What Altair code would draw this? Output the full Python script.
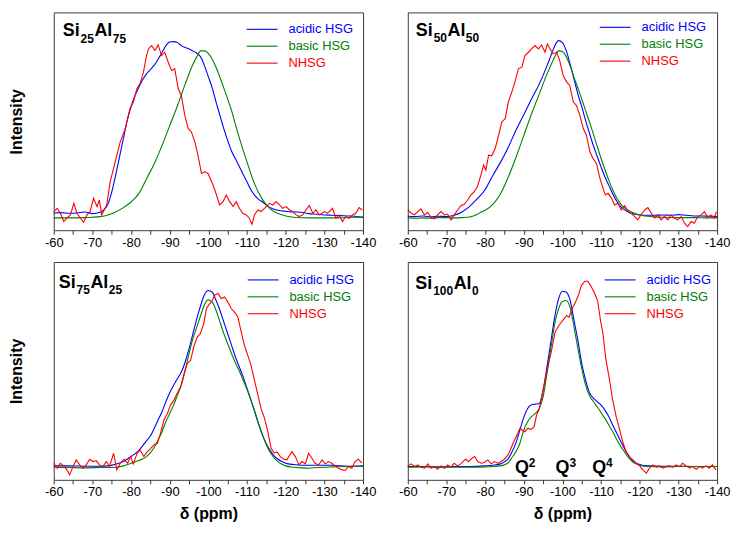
import altair as alt
import pandas as pd

SERIES = ["acidic HSG", "basic HSG", "NHSG"]
COLORS = ["#0000ff", "#008000", "#ff0000"]
X_TICKS = list(range(-60, -145, -5))

# panel titles: (element, subscript, element, subscript)
TITLES = [("Si", "25", "Al", "75"), ("Si", "50", "Al", "50"),
          ("Si", "75", "Al", "25"), ("Si", "100", "Al", "0")]

# (ppm, intensity a.u.)
P1_ACIDIC = [(-60,52),(-62,53),(-64,51),(-66,52),(-68,55),(-70,50),(-72,54),(-73,62),(-74,78),(-75,115),
             (-76,165),(-77,220),(-78,275),(-79,330),(-80,372),(-81,405),(-82,430),(-83,453),(-84,471),
             (-85,484),(-86,497),(-87,515),(-88,535),(-89,556),(-90,567),(-91,568),(-92,565),(-93,556),
             (-94,550),(-95,546),(-96,540),(-97,533),(-98,522),(-99,495),(-100,462),(-101,428),(-102,385),
             (-103,345),(-104,305),(-105,270),(-106,238),(-107,215),(-108,192),(-109,168),(-110,145),
             (-111,122),(-112,105),(-113,93),(-114,85),(-115,76),(-116,68),(-118,60),(-120,57),(-122,55),
             (-124,54),(-126,50),(-128,48),(-130,46),(-132,45),(-134,44),(-136,43),(-138,42),(-140,38)]
P1_BASIC = [(-60,37),(-64,37),(-68,38),(-70,39),(-72,41),(-74,46),(-76,55),(-78,68),(-80,85),(-82,110),
            (-84,155),(-86,200),(-88,255),(-90,315),(-92,375),(-94,440),(-96,500),(-97,522),(-98,540),
            (-99,540),(-100,532),(-101,515),(-102,490),(-103,460),(-104,428),(-105,395),(-106,360),
            (-107,318),(-108,278),(-110,205),(-112,138),(-114,92),(-116,64),(-118,50),(-120,43),(-122,39),
            (-126,37),(-130,37),(-134,37),(-138,39),(-140,40)]
P1_NHSG = [(-60,56),(-60.9,66),(-61.7,51),(-62.6,26),(-63.4,36),(-64.3,46),(-65.2,81),(-66,51),(-66.9,36),
           (-67.7,24),(-68.6,46),(-69.4,56),(-70.3,96),(-71.2,71),(-71.8,91),(-72.4,46),(-73.7,76),
           (-74.6,146),(-75.9,206),(-77.2,266),(-78.5,306),(-79.7,366),(-80.6,386),(-81.5,426),(-82.3,441),
           (-83.2,476),(-84,526),(-84.5,546),(-85.3,556),(-86.2,541),(-87,558),(-87.9,526),(-88.7,536),
           (-89.6,506),(-90.5,481),(-91.3,486),(-92.2,426),(-93,406),(-93.9,346),(-94.8,306),(-95.6,296),
           (-96.5,266),(-97.3,226),(-98.2,171),(-99.1,176),(-99.9,171),(-101.2,136),(-102.1,106),
           (-102.9,76),(-103.8,86),(-104.6,106),(-105.5,86),(-106.4,71),(-107.2,86),(-108,66),(-108.9,51),
           (-109.8,46),(-110.6,36),(-111.3,18),(-111.9,46),(-112.8,61),(-113.6,56),(-114.5,66),(-115.8,81),
           (-116.7,76),(-117.5,86),(-118.4,76),(-119.2,66),(-120.1,71),(-121,61),(-121.8,56),(-122.7,46),
           (-123.5,41),(-124.4,46),(-125.2,61),(-126.1,74),(-127,51),(-127.8,61),(-128.7,46),(-130,56),
           (-130.8,51),(-132.1,66),(-133,36),(-133.8,46),(-134.7,26),(-135.5,41),(-136.4,36),(-137.3,46),
           (-138.1,51),(-139,68),(-139.8,61)]

P2_ACIDIC = [(-60,42),(-62,41),(-64,43),(-66,40),(-68,42),(-70,41),(-72,45),(-74,55),(-76,72),(-78,95),
             (-80,122),(-82,165),(-84,205),(-86,250),(-88,302),(-90,348),(-92,395),(-94,440),(-96,495),
             (-97,525),(-98,555),(-99,571),(-100,565),(-101,540),(-102,500),(-103,455),(-104,410),
             (-105,372),(-106,330),(-107,292),(-108,255),(-109,222),(-110,190),(-111,160),(-112,135),
             (-113,110),(-114,88),(-115,72),(-116,62),(-117,55),(-118,50),(-120,46),(-122,45),(-124,45),
             (-126,46),(-128,45),(-130,47),(-132,45),(-134,43),(-136,43),(-138,42),(-140,41)]
P2_BASIC = [(-60,37),(-62,36),(-64,37),(-66,36),(-68,38),(-70,38),(-72,37),(-74,38),(-76,40),(-78,48),
            (-79,55),(-80,60),(-82,78),(-84,110),(-86,160),(-88,220),(-90,285),(-92,350),(-94,410),
            (-96,470),(-97,497),(-98,522),(-99,540),(-100,538),(-101,522),(-102,495),(-103,460),(-104,428),
            (-105,395),(-106,360),(-107,325),(-108,290),(-109,252),(-110,216),(-111,182),(-112,150),
            (-113,122),(-114,98),(-115,80),(-116,68),(-117,60),(-118,54),(-120,46),(-122,42),(-124,40),
            (-126,39),(-130,38),(-134,38),(-138,37),(-140,37)]
P2_NHSG = [(-60,61),(-60.9,51),(-61.7,46),(-62.6,56),(-63.4,64),(-64.3,46),(-65.2,54),(-66,38),(-66.9,34),
           (-67.7,46),(-68.6,56),(-69.5,46),(-70.3,48),(-71.2,31),(-72,46),(-72.9,61),(-73.7,74),(-74.6,78),
           (-75.5,91),(-76.3,106),(-77.2,116),(-78,131),(-78.9,166),(-79.6,196),(-80.2,181),(-80.9,226),
           (-81.7,224),(-82.6,246),(-83.5,286),(-84.3,326),(-85.2,336),(-86,386),(-86.9,416),(-87.7,446),
           (-88.6,486),(-89.5,491),(-90.3,526),(-91.2,536),(-92,546),(-92.9,556),(-93.8,546),(-94.6,558),
           (-95.5,536),(-96.1,561),(-96.8,546),(-97.6,531),(-98.5,536),(-99.3,511),(-100.2,466),
           (-101.1,446),(-101.9,436),(-102.8,386),(-103.6,376),(-104.5,346),(-105.4,306),(-106.2,286),
           (-107.1,236),(-107.9,216),(-108.8,201),(-109.7,156),(-110.5,126),(-111.1,106),(-111.8,111),
           (-112.7,96),(-113.5,76),(-114.4,81),(-115.2,61),(-116.1,74),(-117,56),(-117.8,51),(-118.7,41),
           (-119.5,31),(-120.4,48),(-121.3,61),(-122.1,68),(-123,51),(-123.8,36),(-124.7,46),(-125.5,31),
           (-126.4,41),(-127.3,31),(-128.1,46),(-129,36),(-129.8,31),(-130.7,41),(-131.6,21),(-132.4,11),
           (-133.3,26),(-134.1,21),(-135,41),(-135.9,46),(-136.7,56),(-137.6,38),(-138.4,46),(-139.3,36),
           (-139.8,56)]

P3_ACIDIC = [(-60,42),(-64,42),(-68,41),(-72,41),(-74,42),(-76,47),(-78,55),(-80,70),(-82,88),(-84,118),
             (-85,132),(-86,155),(-87,180),(-88,205),(-89,235),(-90,262),(-91,285),(-92,305),(-93,325),
             (-94,355),(-95,395),(-96,440),(-97,485),(-98,525),(-99,558),(-100,570),(-101,565),(-102,540),
             (-103,510),(-104,475),(-105,440),(-106,405),(-107,370),(-108,340),(-109,310),(-110,275),
             (-111,240),(-112,205),(-113,168),(-114,135),(-115,108),(-116,88),(-117,72),(-118,62),(-119,55),
             (-120,50),(-122,46),(-124,44),(-128,44),(-132,44),(-136,41),(-140,42)]
P3_BASIC = [(-60,38),(-64,37),(-68,36),(-72,37),(-76,38),(-78,42),(-80,50),(-82,58),(-84,70),(-85,82),
            (-86,98),(-87,120),(-88,145),(-89,175),(-90,200),(-91,225),(-92,255),(-93,285),(-94,330),
            (-95,380),(-96,425),(-97,460),(-98,495),(-99,528),(-100,542),(-101,535),(-102,510),(-103,475),
            (-104,440),(-105,410),(-106,380),(-107,352),(-108,328),(-109,300),(-110,272),(-111,240),
            (-112,205),(-113,168),(-114,135),(-115,105),(-116,82),(-117,66),(-118,55),(-119,47),(-120,42),
            (-122,38),(-124,36),(-126,35),(-128,37),(-132,39),(-136,40),(-140,40)]
P3_NHSG = [(-60,50),(-60.9,35),(-61.7,50),(-62.6,42),(-63.4,30),(-64.1,15),(-65,40),(-65.8,60),(-66.7,45),
           (-67.6,35),(-68.4,45),(-69.3,62),(-70.1,55),(-71,58),(-71.8,45),(-72.7,40),(-73.6,55),(-74.4,40),
           (-75.5,80),(-76.3,30),(-77.2,50),(-78.2,62),(-79.1,50),(-79.9,70),(-80.6,48),(-81.5,78),
           (-82.3,90),(-83.3,70),(-84.2,85),(-85.1,95),(-85.9,105),(-86.8,110),(-87.6,140),(-88.5,180),
           (-89.4,200),(-90.2,225),(-91.1,240),(-91.9,260),(-92.8,280),(-93.6,315),(-94.5,350),(-95.4,360),
           (-96.2,400),(-97.1,430),(-97.9,440),(-98.8,470),(-99.5,516),(-100.3,530),(-101,540),
           (-101.6,556),(-102.5,561),(-103.3,546),(-104.2,551),(-105,536),(-105.9,516),(-106.7,506),
           (-107.6,491),(-108.4,450),(-109.3,406),(-110.1,378),(-111,346),(-111.9,300),(-112.8,256),
           (-113.6,215),(-114.5,186),(-115.3,150),(-116.2,96),(-117,81),(-117.8,84),(-118.6,70),
           (-119.5,62),(-120.3,60),(-120.8,70),(-121.6,85),(-122.5,70),(-123.4,45),(-124.2,55),
           (-125.1,48),(-125.9,80),(-126.8,65),(-127.6,50),(-128.5,45),(-129.4,60),(-130.2,48),
           (-131.1,55),(-131.9,50),(-132.8,42),(-133.7,35),(-134.5,30),(-135.4,28),(-136.2,40),
           (-137.1,35),(-137.9,55),(-138.8,62),(-139.7,50)]

P4_ACIDIC = [(-60,40),(-64,40),(-68,39),(-72,40),(-76,40),(-80,42),(-82,44),(-84,48),(-85,54),(-86,64),
             (-87,85),(-88,112),(-89,150),(-90,188),(-91,215),(-92,226),(-93,228),(-94,230),(-95,270),
             (-96,340),(-97,415),(-98,490),(-99,545),(-100,568),(-101,565),(-102,540),(-103,480),
             (-104,420),(-105,350),(-106,300),(-107,262),(-108,246),(-109,235),(-110,225),(-111,210),
             (-112,190),(-113,165),(-114,142),(-115,118),(-116,95),(-117,75),(-118,60),(-119,51),(-120,46),
             (-122,42),(-126,41),(-130,41),(-134,40),(-140,40)]
P4_BASIC = [(-60,38),(-64,39),(-68,38),(-72,38),(-76,38),(-80,39),(-82,40),(-84,42),(-85,45),(-86,52),
            (-87,68),(-88,85),(-89,110),(-90,150),(-91,175),(-92,190),(-93,200),(-94,215),(-95,250),
            (-96,320),(-97,395),(-98,470),(-99,515),(-100,537),(-101,540),(-102,518),(-103,460),(-104,395),
            (-105,335),(-106,285),(-107,253),(-108,236),(-109,220),(-110,202),(-111,185),(-112,165),
            (-113,145),(-114,122),(-115,102),(-116,85),(-117,68),(-118,56),(-119,48),(-120,44),(-122,40),
            (-126,39),(-130,40),(-134,40),(-140,40)]
P4_NHSG = [(-60,42),(-60.9,48),(-61.7,40),(-62.6,45),(-63.4,38),(-64.3,35),(-65.2,48),(-66,35),(-66.9,40),
           (-67.7,32),(-68.6,42),(-69.5,35),(-70.3,45),(-71.2,38),(-72,50),(-72.9,42),(-73.7,48),(-74.9,62),
           (-75.7,55),(-76.6,65),(-77.3,70),(-78.1,55),(-79,50),(-79.8,52),(-80.7,60),(-81.6,48),(-82.4,55),
           (-83.3,50),(-84.1,55),(-85,62),(-85.9,75),(-86.7,95),(-87.6,120),(-88.4,138),(-89,155),
           (-89.6,150),(-90.3,145),(-91,155),(-91.9,152),(-92.7,160),(-93.3,195),(-93.9,210),(-94.6,245),
           (-95.5,300),(-96.3,345),(-97.2,390),(-98.1,445),(-98.9,462),(-99.6,473),(-100.4,485),
           (-101.1,495),(-101.7,490),(-102.5,515),(-103.2,530),(-104.1,555),(-104.9,585),(-105.8,598),
           (-106.5,598),(-107.3,585),(-108.2,565),(-109.1,540),(-109.9,476),(-110.5,440),(-111.2,366),
           (-112.2,300),(-112.9,246),(-113.9,190),(-114.6,160),(-115.7,110),(-116.5,84),(-117.4,68),
           (-118.2,60),(-119.1,50),(-120,42),(-120.8,30),(-121.7,20),(-122.5,35),(-123.4,45),(-124.3,38),
           (-125.1,42),(-126,35),(-126.8,40),(-127.7,42),(-128.6,38),(-129.4,45),(-130.3,40),(-131.1,50),
           (-132,42),(-132.9,35),(-133.7,40),(-134.6,32),(-135.4,40),(-136.3,35),(-137.1,42),(-138,35),
           (-138.8,45),(-139.7,30)]

Q_LABELS = ["Q", "Q", "Q"]
Q_SUPS = ["2", "3", "4"]
Q_PPM = [-89.5, -100.0, -109.5]
Q_LEVEL = [21, 21, 21]

FONT = "Liberation Sans"
W, H = 311, 219
Y_MAX = 656


def one_row():
    return pd.DataFrame({"k": [0]})


def panel(curves, title, left, bottom, tx0, tbase, lx0, ly0, with_q=False):
    rows = []
    for name, pts in zip(SERIES, curves):
        for p, v in pts:
            rows.append({"ppm": p, "intensity": v, "series": name})
    df = pd.DataFrame(rows)

    xkw = dict(values=X_TICKS,
               labelExpr="datum.value % 10 == 0 ? '' + datum.value : ''",
               grid=False, domain=False, tickSize=4, tickColor="#333333",
               labelFontSize=13, labelColor="#000000", labelPadding=2, labelFont=FONT,
               labelFlush=False, labelOverlap=False)
    if bottom:
        xkw.update(title="δ (ppm)", titleFontSize=16, titleFontWeight="bold",
                   titleColor="#000000", titlePadding=7, titleFont=FONT)
    else:
        xkw.update(title="")
    xenc = alt.X("ppm:Q", scale=alt.Scale(domain=[-140, -60], reverse=True, nice=False, zero=False),
                 axis=alt.Axis(**xkw))
    if left:
        yaxis = alt.Axis(title="Intensity", labels=False, ticks=False, domain=False, grid=False,
                         titleFontSize=16, titleFontWeight="bold", titleColor="#000000",
                         titlePadding=29, titleFont=FONT)
        yenc = alt.Y("intensity:Q", scale=alt.Scale(domain=[0, Y_MAX], nice=False, zero=False), axis=yaxis)
    else:
        yenc = alt.Y("intensity:Q", scale=alt.Scale(domain=[0, Y_MAX], nice=False, zero=False), axis=None)

    color = alt.Color("series:N", scale=alt.Scale(domain=SERIES, range=COLORS), legend=None)
    base = alt.Chart(df).encode(x=xenc, y=yenc, color=color)
    smooth = base.transform_filter(alt.datum.series != "NHSG").mark_line(
        interpolate="monotone", strokeWidth=1.1)
    noisy = base.transform_filter(alt.datum.series == "NHSG").mark_line(strokeWidth=1.1)

    layers = [smooth, noisy]

    # legend (manual, coloured labels)
    for i, (name, col) in enumerate(zip(SERIES, COLORS)):
        yy = ly0 + 17 * i
        layers.append(alt.Chart(one_row()).mark_rule(color=col, strokeWidth=1.1).encode(
            x=alt.value(lx0), x2=alt.value(lx0 + 31), y=alt.value(yy)))
        layers.append(alt.Chart(one_row()).mark_text(
            color=col, fontSize=13, font=FONT, align="left", baseline="middle").encode(
            x=alt.value(lx0 + 42), y=alt.value(yy), text=alt.value(name)))

    # panel title with subscripts
    e1, s1, e2, s2 = title
    x_s1 = tx0 + 18
    x_e2 = x_s1 + 6.7 * len(s1) + 0.5
    x_s2 = x_e2 + 18.5
    for txt, xx, yy, fs in [(e1, tx0, tbase, 18), (s1, x_s1, tbase + 6.5, 12),
                            (e2, x_e2, tbase, 18), (s2, x_s2, tbase + 6.5, 12)]:
        layers.append(alt.Chart(one_row()).mark_text(
            fontSize=fs, fontWeight="bold", font=FONT, color="#000000",
            align="left", baseline="alphabetic").encode(
            x=alt.value(xx), y=alt.value(yy), text=alt.value(txt)))

    if with_q:
        qdf = pd.DataFrame({"ppm": Q_PPM, "intensity": Q_LEVEL, "label": Q_LABELS, "sup": Q_SUPS})
        layers.append(alt.Chart(qdf).mark_text(
            fontSize=18, fontWeight="bold", font=FONT, color="#000000",
            align="center", baseline="alphabetic").encode(x=xenc, y=yenc, text="label:N"))
        layers.append(alt.Chart(qdf).mark_text(
            fontSize=12, fontWeight="bold", font=FONT, color="#000000",
            align="left", baseline="alphabetic", dx=7, dy=-6).encode(x=xenc, y=yenc, text="sup:N"))

    return alt.layer(*layers).properties(width=W, height=H)


p1 = panel([P1_ACIDIC, P1_BASIC, P1_NHSG], TITLES[0], True, False, 9, 24, 194, 17)
p2 = panel([P2_ACIDIC, P2_BASIC, P2_NHSG], TITLES[1], False, False, 8, 23.5, 193, 15)
p3 = panel([P3_ACIDIC, P3_BASIC, P3_NHSG], TITLES[2], True, True, 5, 26, 195, 18)
p4 = panel([P4_ACIDIC, P4_BASIC, P4_NHSG], TITLES[3], False, True, 7.5, 27, 198, 18, with_q=True)

chart = alt.concat(p1, p2, p3, p4, columns=2, spacing={"row": 32, "column": 45},
                   bounds="flush").properties(
    padding={"left": 0, "top": 2, "right": 0, "bottom": 0}
).configure_view(stroke="#3a3a3a", strokeWidth=1)

chart.save("out.html", embed_options={"renderer": "svg", "actions": False})
